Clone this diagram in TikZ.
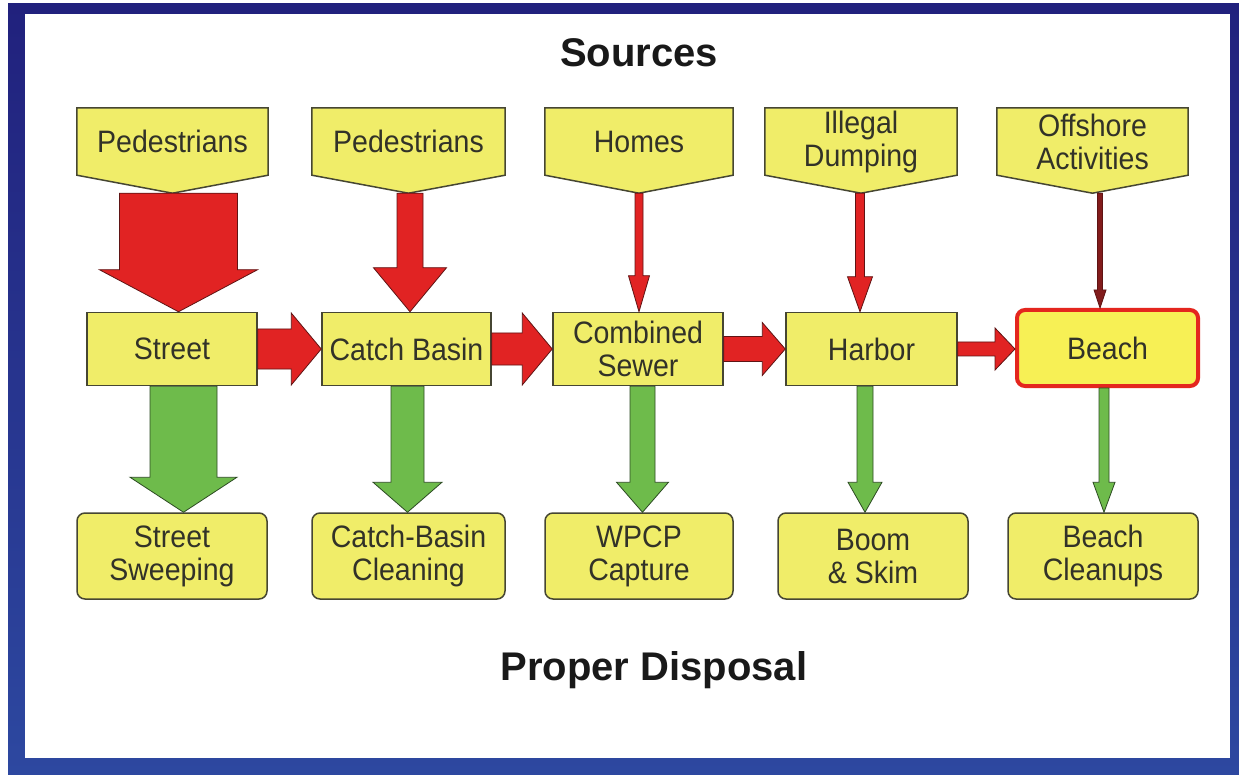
\documentclass[tikz,border=0pt]{standalone}
\usepackage{fontspec}
\setmainfont{Liberation Sans}
\newfontfamily\boxfont[FakeStretch=0.92]{Liberation Sans}
\usetikzlibrary{calc}
\pgfdeclarelayer{bg}
\pgfsetlayers{bg,main}
\definecolor{ylw}{RGB}{240,237,105}
\definecolor{ylwb}{RGB}{247,240,85}
\definecolor{bord}{RGB}{70,70,50}
\definecolor{txt}{RGB}{50,50,40}
\definecolor{redf}{RGB}{225,35,35}
\definecolor{redo}{RGB}{95,20,20}
\definecolor{maroon}{RGB}{130,28,28}
\definecolor{grnf}{RGB}{110,187,75}
\definecolor{grno}{RGB}{45,75,35}
\definecolor{bred}{RGB}{228,38,30}
\definecolor{navy}{RGB}{33,33,125}
\definecolor{blu}{RGB}{45,72,160}

\newcommand\vblk[7][0]{%
  \filldraw[#2] let \p1=(#3), \p2=(#4) in
    ({\x1+#1pt-#5pt},{\y1}) -- ({\x1+#1pt+#5pt},{\y1}) -- ({\x1+#1pt+#5pt},{\y2+#7pt})
    -- ({\x1+#1pt+#6pt},{\y2+#7pt}) -- ({\x1+#1pt},{\y2}) -- ({\x1+#1pt-#6pt},{\y2+#7pt})
    -- ({\x1+#1pt-#5pt},{\y2+#7pt}) -- cycle;}
\newcommand\hblk[6]{%
  \filldraw[#1] let \p1=(#2.east), \p2=(#3.west) in
    ({\x1},{\y1+#4pt}) -- ({\x2-#6pt},{\y1+#4pt}) -- ({\x2-#6pt},{\y1+#5pt}) -- ({\x2},{\y1})
    -- ({\x2-#6pt},{\y1-#5pt}) -- ({\x2-#6pt},{\y1-#4pt}) -- ({\x1},{\y1-#4pt}) -- cycle;}
\newcommand\pent[1]{%
  \coordinate (#1tip) at ($(#1.south)+(0,18)$);
  \begin{pgfonlayer}{bg}
  \filldraw[pentst] (#1.north west) -- (#1.north east) -- (#1.south east) -- (#1tip) -- (#1.south west) -- cycle;
  \end{pgfonlayer}}

\begin{document}
\begin{tikzpicture}[x=1pt,y=-1pt,
  boxtext/.style={font=\boxfont\fontsize{31}{33}\selectfont, text=txt, align=center, inner sep=0pt},
  srcbox/.style={boxtext, minimum width=#1, minimum height=67},
  pentst/.style={fill=ylw, draw=bord, line width=1.5},
  midbox/.style={boxtext, draw=bord, fill=ylw, line width=1.5, minimum height=73},
  botbox/.style={boxtext, draw=bord, fill=ylw, line width=1.5, minimum height=86, minimum width=#1, rounded corners=8},
  redarr/.style={fill=redf, draw=redo, line width=0.8},
  darkarr/.style={fill=maroon, draw=redo, line width=0.8},
  grnarr/.style={fill=grnf, draw=grno, line width=0.8},
  title/.style={font=\fontsize{40}{44}\selectfont\bfseries, text=black!90, anchor=base}]
\useasboundingbox (0,0) rectangle (1239,775);
\begin{pgfonlayer}{bg}
  \fill[white] (0,0) rectangle (1239,775);
  \shade[top color=navy, bottom color=blu] (8,4) rectangle (1239,775);
  \fill[white] (25,14) rectangle (1230,758);
\end{pgfonlayer}

\node[title] (sources) at (639,67) {Sources};
\node[title] (disposal) at (654,680) {Proper Disposal};

% sources
\node[srcbox=191] (p1) at (172.5,141.5) {Pedestrians};
\node[srcbox=193] (p2) at (408.5,141.5) {Pedestrians};
\node[srcbox=188] (p3) at (639,141.5) {Homes};
\node[srcbox=192] (p4) at (861,141.5) {Illegal\\Dumping};
\node[srcbox=191] (p5) at (1092.5,141.5) {Offshore\\Activities};
\pent{p1}\pent{p2}\pent{p3}\pent{p4}\pent{p5}

% middle row
\node[midbox, minimum width=170] (street) at (172,349) {Street};
\node[midbox, minimum width=169] (cb) at (406.5,349) {Catch Basin};
\node[midbox, minimum width=170] (sewer) at (638,349) {Combined\\Sewer};
\node[midbox, minimum width=171] (harbor) at (871.5,349) {Harbor};
\node[midbox, minimum width=181, minimum height=76, draw=bred, line width=4, fill=ylwb, rounded corners=8] (beach) at (1107.5,348) {Beach};

% bottom row
\node[botbox=190] (b1) at (172,556) {Street\\Sweeping};
\node[botbox=193] (b2) at (408.5,556) {Catch-Basin\\Cleaning};
\node[botbox=188] (b3) at (639,556) {WPCP\\Capture};
\node[botbox=190] (b4) at (873,556) {Boom\\\&~Skim};
\node[botbox=190] (b5) at (1103,556) {Beach\\Cleanups};

% red downward arrows
\vblk[6]{redarr}{p1tip}{street.north}{59}{79}{42}
\vblk[1.5]{redarr}{p2tip}{cb.north}{13}{36.5}{44}
\vblk[0]{redarr}{p3tip}{sewer.north}{4}{10.5}{36}
\vblk[-1]{redarr}{p4tip}{harbor.north}{4.5}{12.5}{35}
\vblk[7.5]{darkarr}{p5tip}{beach.north}{2.5}{6}{18}

% red horizontal arrows
\hblk{redarr}{street}{cb}{20}{36}{30}
\hblk{redarr}{cb}{sewer}{16}{36}{30}
\hblk{redarr}{sewer}{harbor}{12.5}{26.5}{23}
\hblk{redarr}{harbor}{beach}{7}{21}{20}

% green arrows
\vblk[11.5]{grnarr}{street.south}{b1.north}{33.5}{53.5}{35}
\vblk[1]{grnarr}{cb.south}{b2.north}{16.5}{34.5}{30}
\vblk[4.5]{grnarr}{sewer.south}{b3.north}{12.5}{26}{30}
\vblk[-6.5]{grnarr}{harbor.south}{b4.north}{8}{17}{30}
\vblk[-3.5]{grnarr}{beach.south}{b5.north}{5}{11}{30}
\end{tikzpicture}
\end{document}
